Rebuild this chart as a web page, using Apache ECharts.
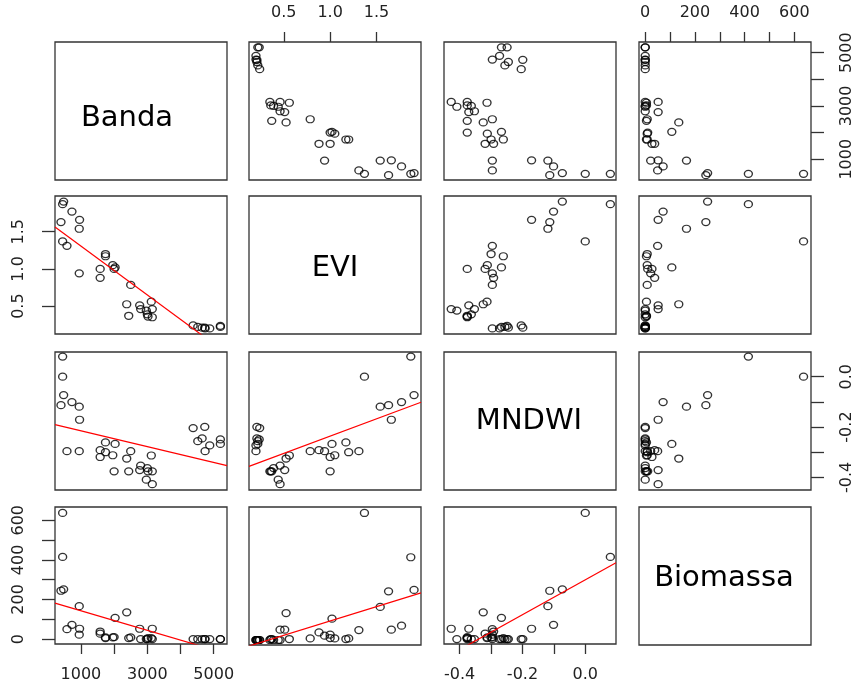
<!DOCTYPE html>
<html>
<head>
<meta charset="utf-8">
<script src="https://cdn.jsdelivr.net/npm/echarts@6/dist/echarts.min.js"></script>
<style>
  html, body { margin: 0; padding: 0; background: #fff; }
  #chart { width: 855px; height: 683px; }
</style>
</head>
<body>
<div id="chart"></div>
<script>
const banda = [480, 450, 400, 450, 580, 730, 960, 950, 950, 1740, 1740, 1960, 2030, 2000, 1580, 1580,
  2500, 2380, 2440, 2770, 2800, 2970, 3000, 3120, 3150, 3150, 3020,
  4380, 4520, 4650, 4730, 4740, 4880, 5200, 5200];
const evi = [1.905, 1.87, 1.63, 1.37, 1.31, 1.77, 1.66, 1.54, 0.94, 1.20, 1.17, 1.05, 1.02, 1.00, 1.00, 0.88,
  0.785, 0.525, 0.37, 0.51, 0.46, 0.44, 0.39, 0.56, 0.46, 0.35, 0.36,
  0.24, 0.22, 0.21, 0.21, 0.20, 0.20, 0.235, 0.22];
const mndwi = [-0.073, 0.08, -0.113, 0.0, -0.296, -0.101, -0.171, -0.119, -0.296, -0.30, -0.261, -0.312, -0.267, -0.376, -0.319, -0.292,
  -0.296, -0.325, -0.376, -0.371, -0.353, -0.409, -0.363, -0.313, -0.427, -0.376, -0.376,
  -0.204, -0.256, -0.245, -0.199, -0.296, -0.273, -0.249, -0.267];
const biomassa = [251, 415, 244, 637, 50, 72, 52, 166, 22, 8, 5, 8, 107, 10, 27, 38,
  8, 135, 5, 52, 0, 0, 0, 5, 52, 0, 5,
  0, 0, 0, 0, 0, 0, 0, 0];

const varNames = ['Banda', 'EVI', 'MNDWI', 'Biomassa'];
const varValues = [banda, evi, mndwi, biomassa];

// tick marks and labelled ticks for each variable
const bandaTicks = [1000, 2000, 3000, 4000, 5000];
const bandaLabels = [1000, 3000, 5000];
const eviTicks = [0.5, 1.0, 1.5];
const eviLabels = [0.5, 1.0, 1.5];
const mndwiTicks = [-0.4, -0.3, -0.2, -0.1, 0.0];
const mndwiLabels = [-0.4, -0.2, 0.0];
const bioTicks = [0, 100, 200, 300, 400, 500, 600];
const bioLabels = [0, 200, 400, 600];

const allTicks = [bandaTicks, eviTicks, mndwiTicks, bioTicks];
const allLabels = [bandaLabels, eviLabels, mndwiLabels, bioLabels];
const decimals = [0, 1, 1, 0];

// axis limits (data range plus R's 4% padding)
const limits = [[220, 5400], [0.125, 1.98], [-0.45, 0.098], [-25, 667]];

// layout of the 4x4 panels
const colLeft = [55, 249, 444, 639];
const rowTop = [42, 196, 352, 507];
const panelW = 172;
const panelH = 138;
const labelPos = [[127, 118], [335, 268], [529, 421], [724, 578]];

const tickFont = { fontFamily: 'DejaVu Sans', fontSize: 16, color: '#222' };

function fit(x, y) {
  const n = x.length;
  const mx = x.reduce((a, b) => a + b, 0) / n;
  const my = y.reduce((a, b) => a + b, 0) / n;
  let sxy = 0, sxx = 0;
  for (let i = 0; i < n; i++) {
    sxy += (x[i] - mx) * (y[i] - my);
    sxx += (x[i] - mx) * (x[i] - mx);
  }
  const b = sxy / sxx;
  return { a: my - b * mx, b: b };
}

const grids = [], xAxes = [], yAxes = [], series = [], graphics = [];

for (let r = 0; r < 4; r++) {
  for (let c = 0; c < 4; c++) {
    const idx = grids.length;
    grids.push({
      left: colLeft[c], top: rowTop[r], width: panelW, height: panelH,
      show: true, borderColor: '#333', borderWidth: 1.3, backgroundColor: '#fff'
    });

    const showBottom = r === 3 && c % 2 === 0;
    const showTop = r === 0 && c % 2 === 1;
    const showLeft = c === 0 && r % 2 === 1;
    const showRight = c === 3 && r % 2 === 0;
    const showX = showBottom || showTop;
    const showY = showLeft || showRight;

    xAxes.push({
      type: 'value', gridIndex: idx,
      position: showTop ? 'top' : 'bottom',
      min: limits[c][0], max: limits[c][1],
      splitLine: { show: false },
      axisLine: { show: false, onZero: false },
      axisTick: { show: showX, customValues: allTicks[c], length: 10, lineStyle: { color: '#333', width: 1.3 } },
      axisLabel: {
        show: showX, customValues: allLabels[c], margin: showTop ? 21 : 23,
        formatter: v => v.toFixed(decimals[c]), ...tickFont
      }
    });
    yAxes.push({
      type: 'value', gridIndex: idx,
      position: showRight ? 'right' : 'left',
      min: limits[r][0], max: limits[r][1],
      splitLine: { show: false },
      axisLine: { show: false, onZero: false },
      axisTick: { show: showY, customValues: allTicks[r], length: 13, lineStyle: { color: '#333', width: 1.3 } },
      axisLabel: {
        show: showY, customValues: allLabels[r], margin: 28, rotate: 90,
        formatter: v => v.toFixed(decimals[r]), ...tickFont
      }
    });

    if (r === c) {
      graphics.push({
        type: 'text', x: labelPos[r][0], y: labelPos[r][1],
        style: {
          text: varNames[r], fontFamily: 'DejaVu Sans', fontSize: 29, fill: '#000',
          textAlign: 'center', textVerticalAlign: 'middle'
        }
      });
      continue;
    }

    const xs = varValues[c], ys = varValues[r];
    series.push({
      type: 'scatter', xAxisIndex: idx, yAxisIndex: idx,
      data: xs.map((v, i) => [v, ys[i]]),
      symbol: 'circle', symbolSize: [8, 7],
      itemStyle: { color: 'rgba(0,0,0,0)', borderColor: '#000', borderWidth: 1.3 },
      silent: true
    });

    // lower panels carry a least-squares line
    if (r > c) {
      const f = fit(xs, ys);
      const x0 = limits[c][0], x1 = limits[c][1];
      series.push({
        type: 'line', xAxisIndex: idx, yAxisIndex: idx,
        data: [[x0, f.a + f.b * x0], [x1, f.a + f.b * x1]],
        symbol: 'none', clip: true, silent: true,
        lineStyle: { color: '#ff0000', width: 1.2 }
      });
    }
  }
}

const chart = echarts.init(document.getElementById('chart'), null, { renderer: 'canvas' });
chart.setOption({
  animation: false,
  backgroundColor: '#fff',
  grid: grids,
  xAxis: xAxes,
  yAxis: yAxes,
  series: series,
  graphic: graphics
});
</script>
</body>
</html>
